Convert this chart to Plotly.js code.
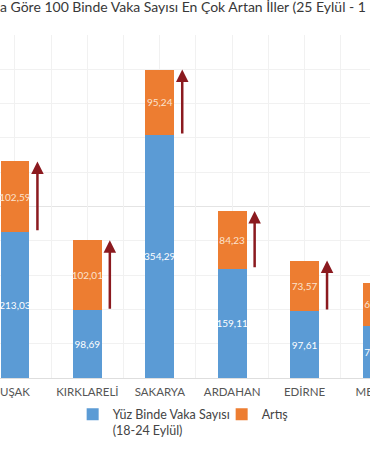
<!DOCTYPE html>
<html>
<head>
<meta charset="utf-8">
<script src="https://cdn.plot.ly/plotly-3.0.1.min.js"></script>
<style>
  html, body { margin: 0; padding: 0; overflow: hidden; background: #ffffff; width: 370px; height: 450px; }
  #chart { width: 420px; height: 450px; }
</style>
</head>
<body>
<div id="chart"></div>
<script>
// Data
var titleText = "a Göre 100 Binde Vaka Sayısı En Çok Artan İller (25 Eylül - 1";
var categories = ["UŞAK", "KIRKLARELİ", "SAKARYA", "ARDAHAN", "EDİRNE", "MERSİN"];
var baseValues = [213.03, 98.69, 354.29, 159.11, 97.61, 75.80];
var increaseValues = [102.59, 102.01, 95.24, 84.23, 73.57, 62.70];
var seriesNames = ["Yüz Binde Vaka Sayısı<br>(18-24 Eylül)", "Artış"];

var FONT = "Lato, 'Open Sans', sans-serif";
var BLUE = "#5b9bd5";
var ORANGE = "#ed7d31";
var ARROW = "#8b1a1f";

var totals = baseValues.map(function (v, i) { return v + increaseValues[i]; });

var traceBase = {
  type: "bar",
  name: seriesNames[0],
  x: categories,
  y: baseValues,
  marker: { color: BLUE },
  texttemplate: "%{y:.2f}",
  textposition: "inside",
  insidetextanchor: "middle",
  textangle: 0,
  textfont: { family: FONT, size: 10, color: "#ffffff" },
  hoverinfo: "skip"
};
var traceInc = {
  type: "bar",
  name: seriesNames[1],
  x: categories,
  y: increaseValues,
  marker: { color: ORANGE },
  texttemplate: "%{y:.2f}",
  textposition: "inside",
  insidetextanchor: "middle",
  textangle: 0,
  textfont: { family: FONT, size: 10, color: "#fbe3cf" },
  hoverinfo: "skip"
};
// helper trace for the half-category vertical grid
var gridHelper = {
  type: "scatter", mode: "markers", x: [null], y: [null],
  xaxis: "x2", yaxis: "y", showlegend: false, hoverinfo: "skip"
};

var arrowOffset = 0.31;
var annotations = categories.map(function (c, i) {
  return {
    xref: "x", yref: "y", axref: "x", ayref: "y",
    x: i + arrowOffset, y: totals[i],
    ax: i + arrowOffset, ay: baseValues[i],
    text: "", showarrow: true,
    arrowhead: 2, arrowsize: 1, arrowwidth: 2.5, arrowcolor: ARROW,
    standoff: 0, startstandoff: 0
  };
});

var xRange = [-0.207, 5.594];

var layout = {
  width: 420,
  height: 450,
  margin: { l: 0, r: 0, t: 35, b: 72, pad: 0 },
  paper_bgcolor: "#ffffff",
  plot_bgcolor: "#ffffff",
  separators: ",.",
  barmode: "stack",
  bargap: 0.6,
  showlegend: true,
  uniformtext: { minsize: 10, mode: "show" },
  title: {
    text: titleText,
    x: 0, xanchor: "left", xref: "container",
    y: 0.985, yanchor: "middle", yref: "container",
    font: { family: FONT, size: 14, color: "#383838" }
  },
  xaxis: {
    type: "category",
    range: xRange,
    showgrid: true,
    gridcolor: "#f1f1f1",
    showline: true,
    linecolor: "#dedede",
    linewidth: 1,
    ticks: "",
    ticklabelstandoff: 3,
    tickfont: { family: FONT, size: 11.5, color: "#555555" },
    fixedrange: true
  },
  xaxis2: {
    type: "linear",
    overlaying: "x",
    range: xRange,
    dtick: 0.5,
    tick0: 0,
    showgrid: true,
    gridcolor: "#f1f1f1",
    showticklabels: false,
    showline: false,
    zeroline: false,
    ticks: ""
  },
  yaxis: {
    range: [0, 500],
    dtick: 250,
    showgrid: true,
    gridcolor: "#e4e4e4",
    minor: { dtick: 50, showgrid: true, gridcolor: "#f1f1f1" },
    showticklabels: false,
    zeroline: false,
    showline: false,
    ticks: "",
    fixedrange: true
  },
  legend: {
    orientation: "h",
    traceorder: "normal",
    x: 0.173, xanchor: "left",
    y: -0.063, yanchor: "top",
    valign: "top",
    font: { family: FONT, size: 12.5, color: "#444444" },
    itemwidth: 30,
    entrywidth: 104,
    entrywidthmode: "pixels",
    bgcolor: "rgba(0,0,0,0)"
  },
  annotations: annotations
};

Plotly.newPlot("chart", [traceBase, traceInc, gridHelper], layout, { displayModeBar: false, responsive: false, staticPlot: true });
</script>
</body>
</html>
